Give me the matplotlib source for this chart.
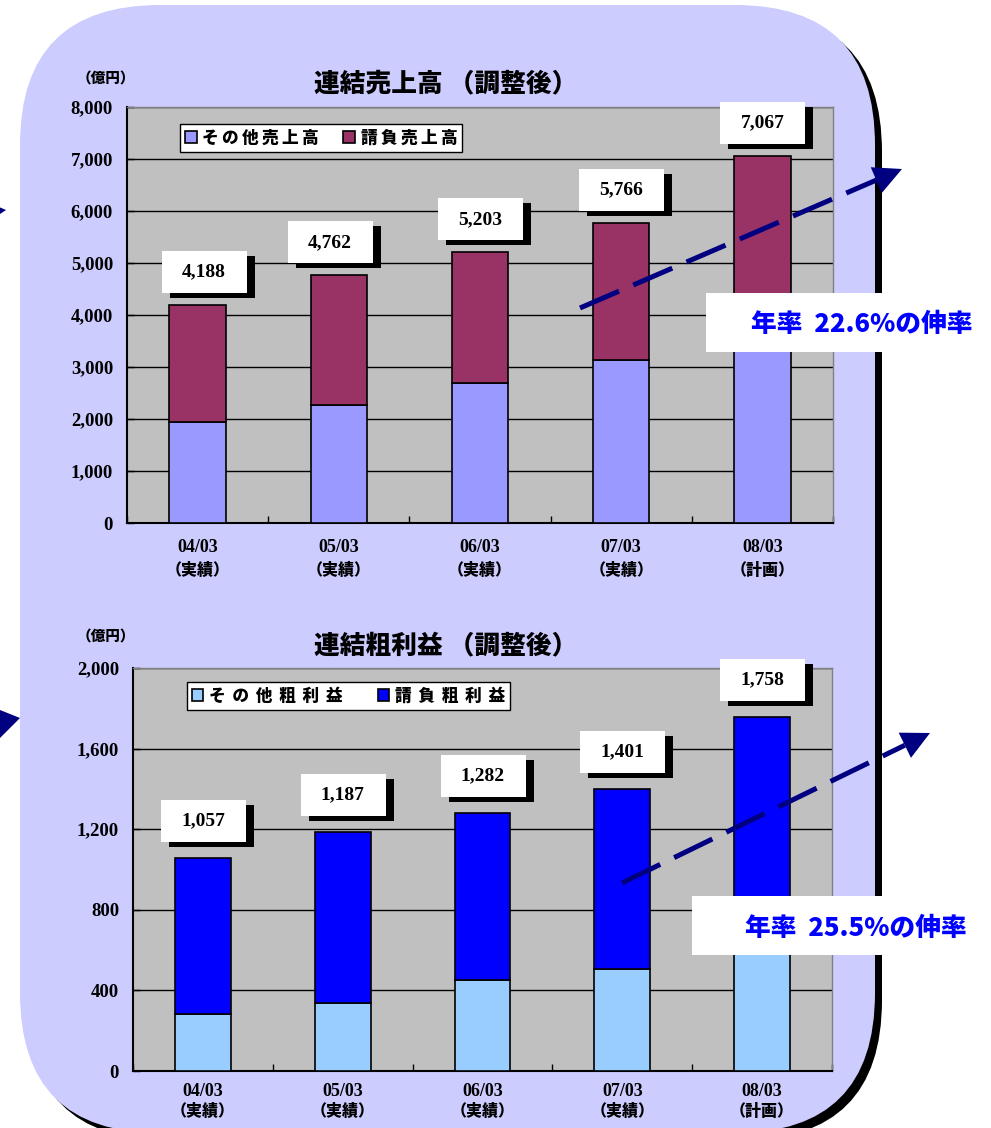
import numpy as np
import matplotlib
matplotlib.use("Agg")
import matplotlib.pyplot as plt
from matplotlib.patches import FancyBboxPatch, Rectangle, Polygon
from matplotlib.ticker import FuncFormatter

plt.rcParams['font.family'] = ['Noto Sans CJK JP', 'DejaVu Sans']

W, H, DPI = 991, 1128, 100

# ---- data ----
periods = ['04/03', '05/03', '06/03', '07/03', '08/03']
period_kinds = ['（実績）', '（実績）', '（実績）', '（実績）', '（計画）']

sales_total = [4188, 4762, 5203, 5766, 7067]
sales_other = [1940, 2270, 2700, 3130, 3500]
sales_contract = [t - o for t, o in zip(sales_total, sales_other)]

profit_total = [1057, 1187, 1282, 1401, 1758]
profit_other = [283, 337, 452, 506, 650]
profit_contract = [t - o for t, o in zip(profit_total, profit_other)]

sales_growth = '22.6%'
profit_growth = '25.5%'

CJK = ['Noto Sans CJK JP', 'DejaVu Sans']
SERIF = 'Liberation Serif'
NAVY = '#000080'


def px_axes(left, top, right, bottom, **kw):
    return fig.add_axes([left / W, 1 - bottom / H, (right - left) / W, (bottom - top) / H], **kw)


def spaced(s, gap='\u2009'):
    # letter spacing like the original legend font
    return gap.join(s)


fig = plt.figure(figsize=(W / DPI, H / DPI), dpi=DPI)
fig.patch.set_facecolor('white')

# background panel (rounded box with a black drop shadow)
bg = px_axes(0, 0, W, H)
bg.set_xlim(0, W)
bg.set_ylim(H, 0)
bg.axis('off')
bg.set_zorder(0)
bg.add_patch(FancyBboxPatch((27, 12), 855, 1128, boxstyle='round,pad=0,rounding_size=140',
                            fc='black', ec='none'))
bg.add_patch(FancyBboxPatch((20, 5), 855, 1128, boxstyle='round,pad=0,rounding_size=140',
                            fc='#CCCCFF', ec='none'))

# overlay for labels, arrows and notes
ov = px_axes(0, 0, W, H)
ov.set_xlim(0, W)
ov.set_ylim(H, 0)
ov.axis('off')
ov.set_zorder(10)
ov.patch.set_alpha(0)


def draw_chart(box, totals, other, contract, colors, names, ymax, step,
               lab_y, label_gap, nudges, legend_box, col_gap, letter_gap):
    ax = px_axes(*box)
    ax.set_zorder(2)
    ax.set_facecolor('#C0C0C0')
    x = np.arange(len(periods))
    ax.bar(x, other, width=0.4, color=colors[0], edgecolor='black', linewidth=1.2,
           label=spaced(names[0], letter_gap), zorder=3)
    ax.bar(x, contract, bottom=other, width=0.4, color=colors[1], edgecolor='black',
           linewidth=1.2, label=spaced(names[1], letter_gap), zorder=3)
    ax.set_xlim(-0.5, len(periods) - 0.5)
    ax.set_ylim(0, ymax)
    ax.set_yticks(np.arange(0, ymax + 1, step))
    ax.yaxis.set_major_formatter(FuncFormatter(lambda v, p: f'{v:,.0f}'))
    ax.grid(axis='y', color='black', linewidth=1, zorder=1)
    ax.set_axisbelow(True)
    ax.set_xticks(np.arange(-0.5, len(periods), 1))
    ax.set_xticklabels([])
    ax.tick_params(axis='x', direction='in', length=5, width=1)
    ax.tick_params(axis='y', direction='in', length=5, width=1, pad=10)
    for lbl in ax.get_yticklabels():
        lbl.set_fontfamily(SERIF)
        lbl.set_fontweight('bold')
        lbl.set_fontsize(13.5)
    for s in ['left', 'bottom']:
        ax.spines[s].set_color('black')
        ax.spines[s].set_linewidth(1.5)
    for s in ['top', 'right']:
        ax.spines[s].set_color('#808080')
        ax.spines[s].set_linewidth(1)

    tr = ax.get_xaxis_transform()
    for i, (p, k) in enumerate(zip(periods, period_kinds)):
        ax.text(i, lab_y[0], p, transform=tr, ha='center', va='center',
                fontfamily=SERIF, fontweight='bold', fontsize=13)
        ax.text(i, lab_y[1], k, transform=tr, ha='center', va='center',
                fontfamily=CJK, fontweight='heavy', fontsize=11.5)

    leg = ax.legend(loc='upper left', bbox_to_anchor=legend_box, ncol=2, frameon=True,
                    fancybox=False, edgecolor='black', framealpha=1, borderpad=0.3,
                    handlelength=0.7, handleheight=0.7, handletextpad=0.35,
                    columnspacing=col_gap, borderaxespad=0,
                    prop={'family': CJK, 'weight': 'heavy', 'size': 12})
    leg.get_frame().set_linewidth(1)

    # value boxes above each bar, with a black shadow
    for i, t in enumerate(totals):
        dx, dy = ax.transData.transform((i, t))
        cx = dx + nudges[i]
        cy = H - dy - label_gap - 21
        ov.add_patch(Rectangle((cx - 42 + 8, cy - 21 + 5), 85, 42, fc='black', ec='none'))
        ov.add_patch(Rectangle((cx - 42, cy - 21), 85, 42, fc='white', ec='none'))
        ov.text(cx, cy, f'{t:,}', ha='center', va='center', fontfamily=SERIF,
                fontweight='bold', fontsize=14)
    return ax


ax1 = draw_chart((127, 107, 833, 523), sales_total, sales_other, sales_contract,
                 ['#9999FF', '#993366'], ['その他売上高', '請負売上高'], 8000, 1000,
                 (-0.060, -0.113), 12, [6, -9, 0, 0, 0], (0.075, 0.959), 1.45, '\u2009')
ax2 = draw_chart((133, 668, 832, 1071), profit_total, profit_other, profit_contract,
                 ['#99CCFF', '#0000FF'], ['その他粗利益', '請負粗利益'], 2000, 400,
                 (-0.052, -0.099), 16, [0, 0, 0, 0, 0], (0.077, 0.965), 2.1, '\u2009\u2009')

# titles and units
for ty, title, uy in [(83, '連結売上高 （調整後）', 79), (645, '連結粗利益 （調整後）', 637)]:
    ov.text(446, ty, title, ha='center', va='center', fontfamily=CJK,
            fontweight='heavy', fontsize=18.5)
    ov.text(106, uy, '（億円）', ha='center', va='center', fontfamily=CJK,
            fontweight='heavy', fontsize=10.5)


def growth_arrow(start, tip, head_len=28, head_w=28):
    sx, sy = start
    tx, ty = tip
    d = np.array([tx - sx, ty - sy], dtype=float)
    d /= np.hypot(*d)
    n = np.array([-d[1], d[0]])
    base = np.array(tip) - d * head_len
    ov.plot([sx, base[0]], [sy, base[1]], color=NAVY, lw=3.6,
            linestyle=(0, (8.5, 3.1)), solid_capstyle='butt')
    ov.add_patch(Polygon([tip, base + n * head_w / 2, base - n * head_w / 2],
                         closed=True, fc=NAVY, ec='none'))


growth_arrow((580, 308), (902, 169))
growth_arrow((622, 883), (930, 733))

# growth notes
for (x0, y0, x1, y1), rate, tx in [((706, 293, 985, 352), sales_growth, 862),
                                   ((692, 896, 980, 955), profit_growth, 856)]:
    ov.add_patch(Rectangle((x0, y0), x1 - x0, y1 - y0, fc='white', ec='none'))
    ov.text(tx, (y0 + y1) / 2 + 2, f'年率  {rate}の伸率', ha='center', va='center',
            fontfamily=CJK, fontweight='heavy', fontsize=18.5, color='#0000FF')

# arrow heads coming in from the left edge
ov.add_patch(Polygon([(-8, 204), (6, 210), (-6, 218)], closed=True, fc=NAVY, ec='none'))
ov.add_patch(Polygon([(-10, 706), (20, 718), (-2, 740)], closed=True, fc=NAVY, ec='none'))

fig.savefig('out.png', dpi=DPI)
